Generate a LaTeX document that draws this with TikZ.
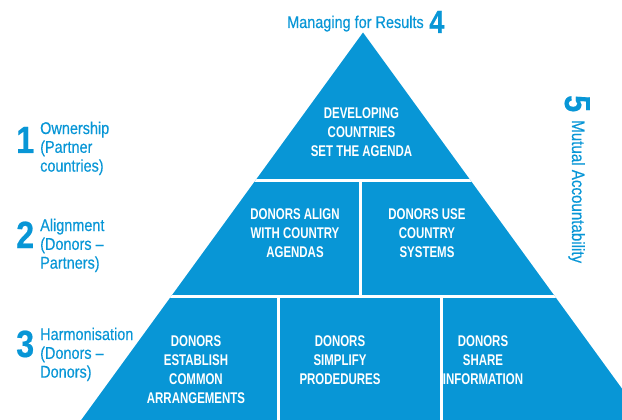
\documentclass[tikz,border=0pt]{standalone}
\usepackage{fontspec}
\setmainfont{Liberation Sans}[FakeStretch=0.85,FakeBold=0.4]
\newfontfamily\cellfont{Liberation Sans}[FakeStretch=0.74]
\usetikzlibrary{calc}
\definecolor{pblue}{RGB}{8,150,214}

\begin{document}
\begin{tikzpicture}[x=1pt,y=-1pt,
	cell/.style={text=white,align=center,inner sep=0pt,font=\cellfont\bfseries\fontsize{15.5}{19}\selectfont},
	side/.style={text=pblue,align=left,anchor=north west,inner sep=0pt,font=\fontsize{17}{18.8}\selectfont},
	bignum/.style={text=pblue,inner sep=0pt,anchor=base west,font=\bfseries\fontsize{38}{38}\selectfont}]
	\useasboundingbox (0,0) rectangle (622,420);
	\clip (0,0) rectangle (622,420);

	\coordinate (top) at (363,32.5);
	\coordinate (bl) at (81.2,420);
	\coordinate (br) at (644.8,420);

	% pyramid and the white gaps between its blocks
	\fill[pblue] (top) -- (br) -- (bl) -- cycle;
	\begin{scope}
		\clip (top) -- (br) -- (bl) -- cycle;
		\draw[white,line width=3pt] (0,180) -- (622,180);
		\draw[white,line width=3pt] (0,296.5) -- (622,296.5);
		\draw[white,line width=3pt] (360,180) -- (360,296.5);
		\draw[white,line width=3pt] (278,296.5) -- (278,420);
		\draw[white,line width=3pt] (441.5,296.5) -- (441.5,420);
	\end{scope}

	\node[cell,anchor=north] (agenda) at (361.5,107.5) {DEVELOPING\\COUNTRIES\\SET THE AGENDA};
	\node[cell,anchor=north] (alignagenda) at (295,208) {DONORS ALIGN\\WITH COUNTRY\\AGENDAS};
	\node[cell,anchor=north] (systems) at (427,208) {DONORS USE\\COUNTRY\\SYSTEMS};
	\node[cell,anchor=north] (common) at (196,335) {DONORS\\ESTABLISH\\COMMON\\ARRANGEMENTS};
	\node[cell,anchor=north] (simplify) at (340,335) {DONORS\\SIMPLIFY\\PRODEDURES};
	\node[cell,anchor=north] (share) at (483,335) {DONORS\\SHARE\\INFORMATION};

	\node[bignum] (n1) at (16,153) {1};
	\node[side] (own) at (40,121.5) {Ownership\\(Partner\\countries)};
	\node[bignum] (n2) at (16,248) {2};
	\node[side] (aln) at (40,218.5) {Alignment\\(Donors –\\Partners)};
	\node[bignum] (n3) at (16,357) {3};
	\node[side] (harm) at (40,327.5) {Harmonisation\\(Donors –\\Donors)};

	\node[side,anchor=base west] (results) at (287,28) {Managing for Results};
	\node[bignum,font=\bfseries\fontsize{32}{32}\selectfont] (n4) at (429,33) {4};
	\node[bignum,rotate=-90,font=\bfseries\fontsize{36}{36}\selectfont] (n5) at (565,95) {5};
	\node[side,rotate=-90,anchor=base west,font=\fontsize{17.8}{18}\selectfont] (mutual) at (572,120) {Mutual Accountability};
\end{tikzpicture}
\end{document}
